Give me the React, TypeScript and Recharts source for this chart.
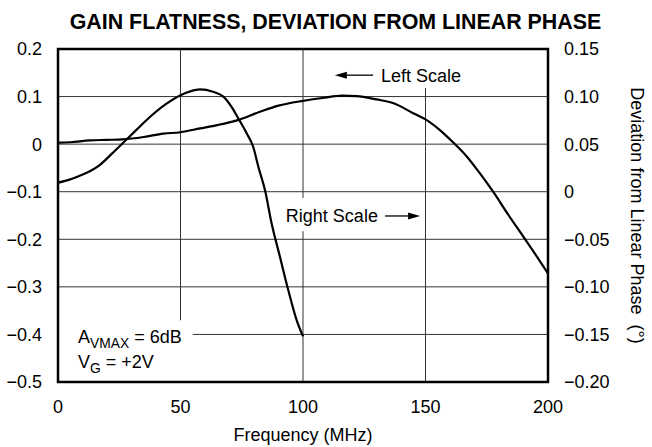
import { LineChart, Line, XAxis, YAxis, CartesianGrid, ReferenceArea, ReferenceLine, ReferenceDot } from 'recharts';

// gain flatness (left scale, dB)
const gainFreq = [0, 5, 13, 20, 26.5, 35, 43, 50, 58, 65, 73, 82.4, 90, 100, 108, 116, 122, 130, 137, 145, 150, 156, 161, 167, 172, 177.6, 184, 190, 195, 200];
const gainValues = [0.003, 0.004, 0.008, 0.009, 0.01, 0.015, 0.022, 0.025, 0.033, 0.04, 0.05, 0.068, 0.081, 0.091, 0.097, 0.102, 0.101, 0.094, 0.086, 0.065, 0.052, 0.029, 0.005, -0.027, -0.06, -0.1, -0.15, -0.195, -0.233, -0.272];

// deviation from linear phase (right scale, degrees)
const phaseFreq = [0, 5, 9, 13, 17, 22, 27, 32, 37.5, 44, 50, 54, 58, 63.3, 67.5, 70.9, 73.5, 77, 79.7, 81.8, 84.5, 87.2, 90.6, 94, 97.4, 100];
const phaseValues = [0.0095, 0.013, 0.017, 0.0215, 0.028, 0.04, 0.0525, 0.065, 0.0785, 0.092, 0.1015, 0.1055, 0.1075, 0.105, 0.1, 0.089, 0.0775, 0.0615, 0.047, 0.026, 0.0015, -0.0335, -0.0685, -0.1035, -0.135, -0.152];

const freqTicks = [0, 50, 100, 150, 200];
const leftTicks = [-0.5, -0.4, -0.3, -0.2, -0.1, 0, 0.1, 0.2];
const rightTicks = [-0.2, -0.15, -0.1, -0.05, 0, 0.05, 0.1, 0.15];

const gainData = gainFreq.map((f, i) => ({ f, v: gainValues[i] }));
const phaseData = phaseFreq.map((f, i) => ({ f, v: phaseValues[i] }));

const FONT = '"Liberation Sans", Arial, sans-serif';

const fmt = (digits: number) => (v: number) =>
  v === 0 ? '0' : (v < 0 ? '\u2212' : '') + Math.abs(v).toFixed(digits);

const Arrow = (p: any) => {
  const { x1, y1, x2, y2 } = p;
  const dir = x2 > x1 ? 1 : -1;
  return (
    <g>
      <line x1={x1} y1={y1} x2={x2 - dir * 8} y2={y2} stroke="#000" strokeWidth={1.3} />
      <polygon points={`${x2},${y2} ${x2 - dir * 12},${y2 - 3.5} ${x2 - dir * 12},${y2 + 3.5}`} fill="#000" />
    </g>
  );
};

const textAt = (content: React.ReactNode) => (p: any) => (
  <text x={p.cx} y={p.cy} fontFamily={FONT} fontSize={18} fill="#000">
    {content}
  </text>
);

const RightLabel = (p: any) => {
  const vb = p.viewBox;
  const cx = vb.x + vb.width - 15;
  const cy = vb.y + vb.height / 2;
  return (
    <text
      x={cx}
      y={cy}
      transform={`rotate(90 ${cx} ${cy})`}
      textAnchor="middle"
      dominantBaseline="central"
      fontFamily={FONT}
      fontSize={18}
      fill="#000"
      style={{ whiteSpace: 'pre' }}
    >
      {'Deviation from Linear Phase  (\u00b0)'}
    </text>
  );
};

export default function App() {
  const tickStyle = { fill: '#000', fontSize: 18, fontFamily: FONT };
  return (
    <div style={{ position: 'absolute', left: 0, top: 0, width: 652, height: 447, background: '#fff' }}>
      <div
        style={{
          position: 'absolute',
          left: 9.5,
          top: 12,
          width: 652,
          textAlign: 'center',
          fontFamily: FONT,
          fontWeight: 'bold',
          fontSize: 21.4,
          lineHeight: '21px',
          color: '#000',
        }}
      >
        GAIN FLATNESS, DEVIATION FROM LINEAR PHASE
      </div>
      <LineChart width={652} height={447} margin={{ top: 49, right: 0, bottom: 0, left: 0 }}>
        <CartesianGrid yAxisId="left" stroke="#333" strokeWidth={1} />
        <XAxis
          dataKey="f"
          type="number"
          domain={[0, 200]}
          ticks={freqTicks}
          height={65}
          tickSize={0}
          tickMargin={18}
          axisLine={false}
          tick={tickStyle}
          allowDuplicatedCategory={false}
          label={{ value: 'Frequency (MHz)', position: 'insideBottom', offset: 6, fill: '#000', fontSize: 18, fontFamily: FONT }}
        />
        <YAxis
          yAxisId="left"
          type="number"
          domain={[-0.5, 0.2]}
          ticks={leftTicks}
          width={58}
          tickSize={0}
          tickMargin={16}
          axisLine={false}
          tick={tickStyle}
          tickFormatter={fmt(1)}
        />
        <YAxis
          yAxisId="right"
          orientation="right"
          type="number"
          domain={[-0.2, 0.15]}
          ticks={rightTicks}
          width={104}
          tickSize={0}
          tickMargin={16}
          axisLine={false}
          tick={tickStyle}
          tickFormatter={fmt(2)}
          label={{ content: RightLabel }}
        />

        {/* white patches behind the annotations */}
        <ReferenceArea yAxisId="left" x1={111} x2={168} y1={0.118} y2={0.2} fill="#fff" fillOpacity={1} stroke="none" />
        <ReferenceArea yAxisId="left" x1={92} x2={148.6} y1={-0.183} y2={-0.113} fill="#fff" fillOpacity={1} stroke="none" />
        <ReferenceArea yAxisId="left" x1={0} x2={55} y1={-0.5} y2={-0.37} fill="#fff" fillOpacity={1} stroke="none" />

        {/* plot frame */}
        <ReferenceArea yAxisId="left" x1={0} x2={200} y1={-0.5} y2={0.2} fill="none" stroke="#000" strokeWidth={2.5} />

        <ReferenceLine yAxisId="left" segment={[{ x: 128.6, y: 0.145 }, { x: 113, y: 0.145 }]} shape={Arrow} />
        <ReferenceLine yAxisId="left" segment={[{ x: 133.5, y: -0.151 }, { x: 147.8, y: -0.151 }]} shape={Arrow} />
        <ReferenceDot yAxisId="left" x={131.8} y={0.13} r={1} shape={textAt('Left Scale')} />
        <ReferenceDot yAxisId="left" x={93} y={-0.164} r={1} shape={textAt('Right Scale')} />
        <ReferenceDot
          yAxisId="left"
          x={8.2}
          y={-0.418}
          r={1}
          shape={textAt(
            <>
              <tspan>A</tspan>
              <tspan fontSize={13.8} dy={5}>VMAX</tspan>
              <tspan dy={-5}> = 6dB</tspan>
            </>
          )}
        />
        <ReferenceDot
          yAxisId="left"
          x={8.2}
          y={-0.47}
          r={1}
          shape={textAt(
            <>
              <tspan>V</tspan>
              <tspan fontSize={13.8} dy={5}>G</tspan>
              <tspan dy={-5}> = +2V</tspan>
            </>
          )}
        />

        <Line
          yAxisId="left"
          data={gainData}
          dataKey="v"
          type="monotone"
          stroke="#000"
          strokeWidth={2.2}
          dot={false}
          isAnimationActive={false}
        />
        <Line
          yAxisId="right"
          data={phaseData}
          dataKey="v"
          type="monotone"
          stroke="#000"
          strokeWidth={2.2}
          dot={false}
          isAnimationActive={false}
        />
      </LineChart>
    </div>
  );
}
